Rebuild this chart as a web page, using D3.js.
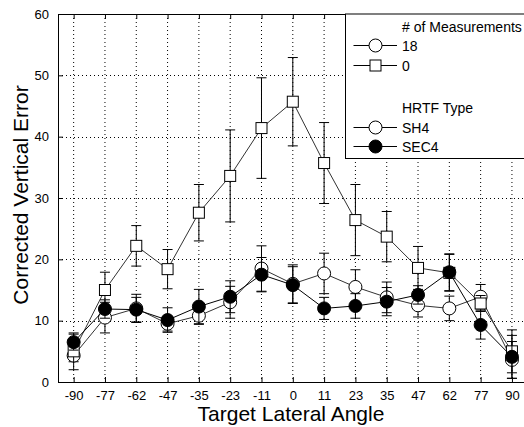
<!DOCTYPE html>
<html>
<head>
<meta charset="utf-8">
<script src="https://cdn.jsdelivr.net/npm/d3@7"></script>
<style>
  html, body { margin: 0; padding: 0; background: #fff; }
  svg { display: block; font-family: "Liberation Sans", Arial, sans-serif; }
</style>
</head>
<body>
<svg id="chart" width="524" height="427"></svg>
<script>
// ---- data ----
const angles = ["-90", "-77", "-62", "-47", "-35", "-23", "-11", "0", "11", "23", "35", "47", "62", "77", "90"];
const yTicks = [0, 10, 20, 30, 40, 50, 60];

// # of Measurements = 0 (open squares)
const meas0Values = [5.0, 15.0, 22.2, 18.4, 27.6, 33.6, 41.4, 45.7, 35.7, 26.4, 23.7, 18.6, 17.8, 12.8, 5.0];
const meas0Errors = [3.0, 2.9, 3.3, 3.2, 4.6, 7.5, 8.2, 7.2, 6.6, 5.8, 4.1, 3.5, 3.0, 1.3, 3.5];

// SH4, 18 measurements (open circles)
const sh4Values = [4.3, 10.5, 12.0, 9.5, 10.8, 13.0, 18.5, 16.0, 17.7, 15.5, 13.8, 12.5, 12.0, 13.9, 3.6];
const sh4Errors = [1.0, 2.5, 2.3, 1.2, 1.4, 2.6, 3.7, 3.1, 3.3, 2.8, 2.5, 1.9, 2.0, 2.0, 3.0];

// SEC4 (filled circles)
const sec4Values = [6.5, 11.9, 11.8, 10.1, 12.3, 13.9, 17.5, 15.8, 12.0, 12.4, 13.1, 14.2, 17.9, 9.3, 4.1];
const sec4Errors = [1.3, 1.5, 2.0, 2.0, 2.8, 2.6, 2.8, 3.0, 1.8, 2.0, 2.3, 1.5, 3.0, 2.3, 3.5];

const xTitle = "Target Lateral Angle";
const yTitle = "Corrected Vertical Error";

// ---- layout ----
const svg = d3.select("#chart");
const pLeft = 58, pRight = 527.6, pTop = 14, pBottom = 382;

const x = d3.scalePoint().domain(angles).range([pLeft, pRight]).padding(0.5);
const y = d3.scaleLinear().domain([0, 60]).range([pBottom, pTop]);

// grid
const grid = svg.append("g");
grid.selectAll("line.v").data(angles).enter().append("line")
  .attr("x1", d => x(d)).attr("x2", d => x(d))
  .attr("y1", pTop).attr("y2", pBottom)
  .attr("stroke", "#000").attr("stroke-width", 1)
  .attr("stroke-dasharray", "1,3");
grid.selectAll("line.h").data(yTicks.filter(v => v > 0 && v < 60)).enter().append("line")
  .attr("x1", pLeft).attr("x2", pRight)
  .attr("y1", d => Math.round(y(d)) + 0.5).attr("y2", d => Math.round(y(d)) + 0.5)
  .attr("stroke", "#000").attr("stroke-width", 1)
  .attr("stroke-dasharray", "1,3");

// axes
const xAxisB = d3.axisBottom(x).tickSizeInner(-5).tickSizeOuter(0).tickPadding(9);
const gxb = svg.append("g").attr("transform", `translate(0,${pBottom})`).call(xAxisB);
const xAxisT = d3.axisTop(x).tickSizeInner(-5).tickSizeOuter(0).tickFormat("");
const gxt = svg.append("g").attr("transform", `translate(0,${pTop})`).call(xAxisT);
const yAxisL = d3.axisLeft(y).tickValues(yTicks).tickSizeInner(-5).tickSizeOuter(0).tickPadding(9);
const gyl = svg.append("g").attr("transform", `translate(${pLeft},0)`).call(yAxisL);
[gxb, gxt, gyl].forEach(g => {
  g.selectAll("path.domain").attr("stroke", "#000").attr("stroke-width", 1);
  g.selectAll(".tick line").attr("stroke", "#000");
  g.selectAll("text").attr("fill", "#000").style("font-size", "13px")
    .style("font-family", "'Liberation Sans', Arial, sans-serif");
});

// axis titles
svg.append("text").attr("x", 291).attr("y", 421).attr("text-anchor", "middle")
  .style("font-size", "21px").attr("fill", "#000").text(xTitle);
svg.append("text").attr("transform", "translate(28,195) rotate(-90)").attr("text-anchor", "middle")
  .style("font-size", "21px").attr("fill", "#000").text(yTitle);

// series
const series = [
  { values: sh4Values, errors: sh4Errors, shape: "circle", fill: "#fff", line: "#333" },
  { values: meas0Values, errors: meas0Errors, shape: "square", fill: "#fff", line: "#333" },
  { values: sec4Values, errors: sec4Errors, shape: "circle", fill: "#000", line: "#000" }
];

function drawMarker(g, shape, fill, cx, cy) {
  if (shape === "circle") {
    g.append("circle").attr("cx", cx).attr("cy", cy).attr("r", 6.5)
      .attr("fill", fill).attr("stroke", "#000").attr("stroke-width", 1);
  } else {
    g.append("rect").attr("x", cx - 5.5).attr("y", cy - 5.5).attr("width", 11).attr("height", 11)
      .attr("fill", fill).attr("stroke", "#000").attr("stroke-width", 1);
  }
}

const line = d3.line().x((d, i) => x(angles[i])).y(d => y(d));

series.forEach(s => {
  const g = svg.append("g");
  s.values.forEach((v, i) => {
    const cx = x(angles[i]);
    const y1 = y(v + s.errors[i]), y2 = y(v - s.errors[i]);
    g.append("line").attr("x1", cx).attr("x2", cx).attr("y1", y1).attr("y2", y2)
      .attr("stroke", "#000").attr("stroke-width", 1);
    [y1, y2].forEach(yy => g.append("line").attr("x1", cx - 5).attr("x2", cx + 5)
      .attr("y1", yy).attr("y2", yy).attr("stroke", "#000").attr("stroke-width", 1));
  });
  g.append("path").datum(s.values).attr("d", line)
    .attr("fill", "none").attr("stroke", s.line).attr("stroke-width", 1);
  s.values.forEach((v, i) => drawMarker(g, s.shape, s.fill, x(angles[i]), y(v)));
});

// legend
const lg = svg.append("g");
lg.append("rect").attr("x", 345.5).attr("y", pTop).attr("width", 200).attr("height", 158.5 - pTop)
  .attr("fill", "#fff").attr("stroke", "#000").attr("stroke-width", 1);
const legendItems = [
  { type: "title", text: "# of Measurements", yb: 32 },
  { type: "item", text: "18", shape: "circle", fill: "#fff", yc: 45.5 },
  { type: "item", text: "0", shape: "square", fill: "#fff", yc: 65.5 },
  { type: "title", text: "HRTF Type", yb: 113 },
  { type: "item", text: "SH4", shape: "circle", fill: "#fff", yc: 127.5 },
  { type: "item", text: "SEC4", shape: "circle", fill: "#000", yc: 146.5 }
];
legendItems.forEach(it => {
  if (it.type === "title") {
    lg.append("text").attr("x", 402).attr("y", it.yb).style("font-size", "14px").attr("fill", "#000").text(it.text);
  } else {
    lg.append("line").attr("x1", 353.5).attr("x2", 397).attr("y1", it.yc).attr("y2", it.yc)
      .attr("stroke", "#000").attr("stroke-width", 1);
    drawMarker(lg, it.shape, it.fill, 375.5, it.yc);
    lg.append("text").attr("x", 402).attr("y", it.yc + 5).style("font-size", "14px").attr("fill", "#000").text(it.text);
  }
});
</script>
</body>
</html>
